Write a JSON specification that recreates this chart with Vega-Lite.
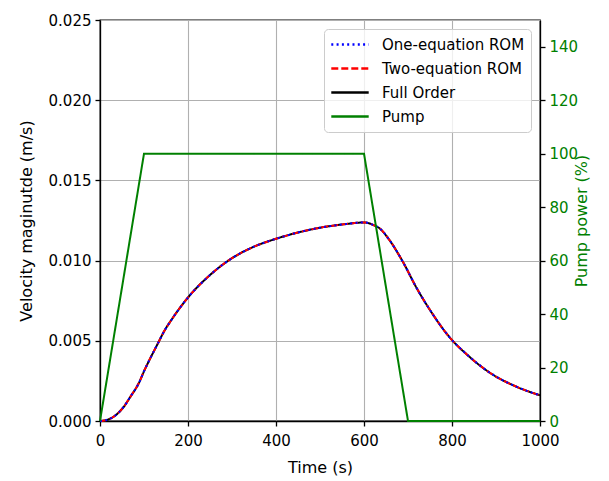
{
  "$schema": "https://vega.github.io/schema/vega-lite/v6.json",
  "autosize": {"type": "none"},
  "width": 440,
  "height": 401,
  "padding": {"left": 100, "top": 20, "right": 69, "bottom": 60},
  "background": "white",
  "config": {
    "view": {"stroke": "black", "strokeWidth": 1.3},
    "font": "DejaVu Sans",
    "axis": {
      "labelFont": "DejaVu Sans", "labelFontSize": 15, "labelColor": "black", "labelFlush": false,
      "titleFont": "DejaVu Sans", "titleFontSize": 16, "titleFontWeight": "normal", "titleColor": "black",
      "domainColor": "black", "domainWidth": 1.3, "tickColor": "black", "tickSize": 5, "tickWidth": 1.3,
      "gridColor": "#b0b0b0", "gridWidth": 1.1, "labelPadding": 4
    },
    "legend": {
      "orient": "top-right", "offset": 9, "padding": 6,
      "fillColor": "rgba(255,255,255,0.8)", "strokeColor": "#cccccc", "cornerRadius": 4,
      "labelFont": "DejaVu Sans", "labelFontSize": 15, "labelColor": "black",
      "symbolType": "stroke", "symbolSize": 1400, "symbolStrokeWidth": 2.5, "rowPadding": 5, "labelOffset": 12,
      "clipHeight": 19
    }
  },
  "datasets": {
    "vel": [
      {"t": 0, "v": 0}, {"t": 13, "v": 0.00005}, {"t": 27, "v": 0.0002}, {"t": 53, "v": 0.00085},
      {"t": 70, "v": 0.00155}, {"t": 88, "v": 0.00235}, {"t": 100, "v": 0.0031}, {"t": 129, "v": 0.0047},
      {"t": 148, "v": 0.0057}, {"t": 161, "v": 0.00625}, {"t": 200, "v": 0.0077}, {"t": 250, "v": 0.0091},
      {"t": 300, "v": 0.01015}, {"t": 350, "v": 0.01087}, {"t": 400, "v": 0.01136}, {"t": 450, "v": 0.01175},
      {"t": 500, "v": 0.01205}, {"t": 550, "v": 0.01225}, {"t": 602, "v": 0.01238}, {"t": 621, "v": 0.01222},
      {"t": 636, "v": 0.0120}, {"t": 655, "v": 0.01139}, {"t": 689, "v": 0.00989}, {"t": 720, "v": 0.00827},
      {"t": 754, "v": 0.00675}, {"t": 792, "v": 0.0053}, {"t": 837, "v": 0.00407}, {"t": 886, "v": 0.00301},
      {"t": 943, "v": 0.00218}, {"t": 1000, "v": 0.0016}
    ],
    "pump": [
      {"t": 0, "p": 0}, {"t": 100, "p": 100}, {"t": 600, "p": 100}, {"t": 700, "p": 0}, {"t": 1000, "p": 0}
    ]
  },
  "layer": [
    {
      "data": {"name": "vel"},
      "encoding": {
        "x": {"field": "t", "type": "quantitative", "scale": {"domain": [0, 1000], "nice": false},
              "axis": {"values": [0, 200, 400, 600, 800, 1000], "format": "d", "title": "Time (s)", "grid": true,
                       "labelPadding": 7, "titlePadding": 11}},
        "y": {"field": "v", "type": "quantitative", "scale": {"domain": [0, 0.025], "nice": false},
              "axis": {"values": [0, 0.005, 0.01, 0.015, 0.02, 0.025], "format": ".3f", "grid": true,
                       "title": "Velocity maginutde (m/s)", "titlePadding": 14}}
      },
      "layer": [
        {"mark": {"type": "line", "strokeWidth": 2, "interpolate": "monotone"},
         "encoding": {
           "color": {"datum": "Full Order", "type": "nominal", "title": null,
                     "scale": {"domain": ["One-equation ROM", "Two-equation ROM", "Full Order", "Pump"],
                               "range": ["#0000ff", "#ff0000", "#000000", "#008000"]}},
           "strokeDash": {"datum": "Full Order", "type": "nominal", "title": null,
                          "scale": {"domain": ["One-equation ROM", "Two-equation ROM", "Full Order", "Pump"],
                                    "range": [[2, 3.3], [7, 3], [1, 0], [1, 0]]}}
         }},
        {"mark": {"type": "line", "strokeWidth": 2, "interpolate": "monotone"},
         "encoding": {
           "color": {"datum": "Two-equation ROM", "type": "nominal"},
           "strokeDash": {"datum": "Two-equation ROM", "type": "nominal"}
         }},
        {"mark": {"type": "line", "strokeWidth": 2, "interpolate": "monotone"},
         "encoding": {
           "color": {"datum": "One-equation ROM", "type": "nominal"},
           "strokeDash": {"datum": "One-equation ROM", "type": "nominal"}
         }}
      ]
    },
    {
      "data": {"name": "pump"},
      "mark": {"type": "line", "strokeWidth": 2},
      "encoding": {
        "x": {"field": "t", "type": "quantitative"},
        "y": {"field": "p", "type": "quantitative", "scale": {"domain": [0, 150], "nice": false},
              "axis": {"orient": "right", "values": [0, 20, 40, 60, 80, 100, 120, 140], "grid": false,
                       "title": "Pump power (%)", "titleAngle": 270, "labelColor": "#008000", "titleColor": "#008000", "titlePadding": 12}},
        "color": {"datum": "Pump", "type": "nominal"},
        "strokeDash": {"datum": "Pump", "type": "nominal"}
      }
    }
  ],
  "resolve": {"scale": {"y": "independent"}}
}
